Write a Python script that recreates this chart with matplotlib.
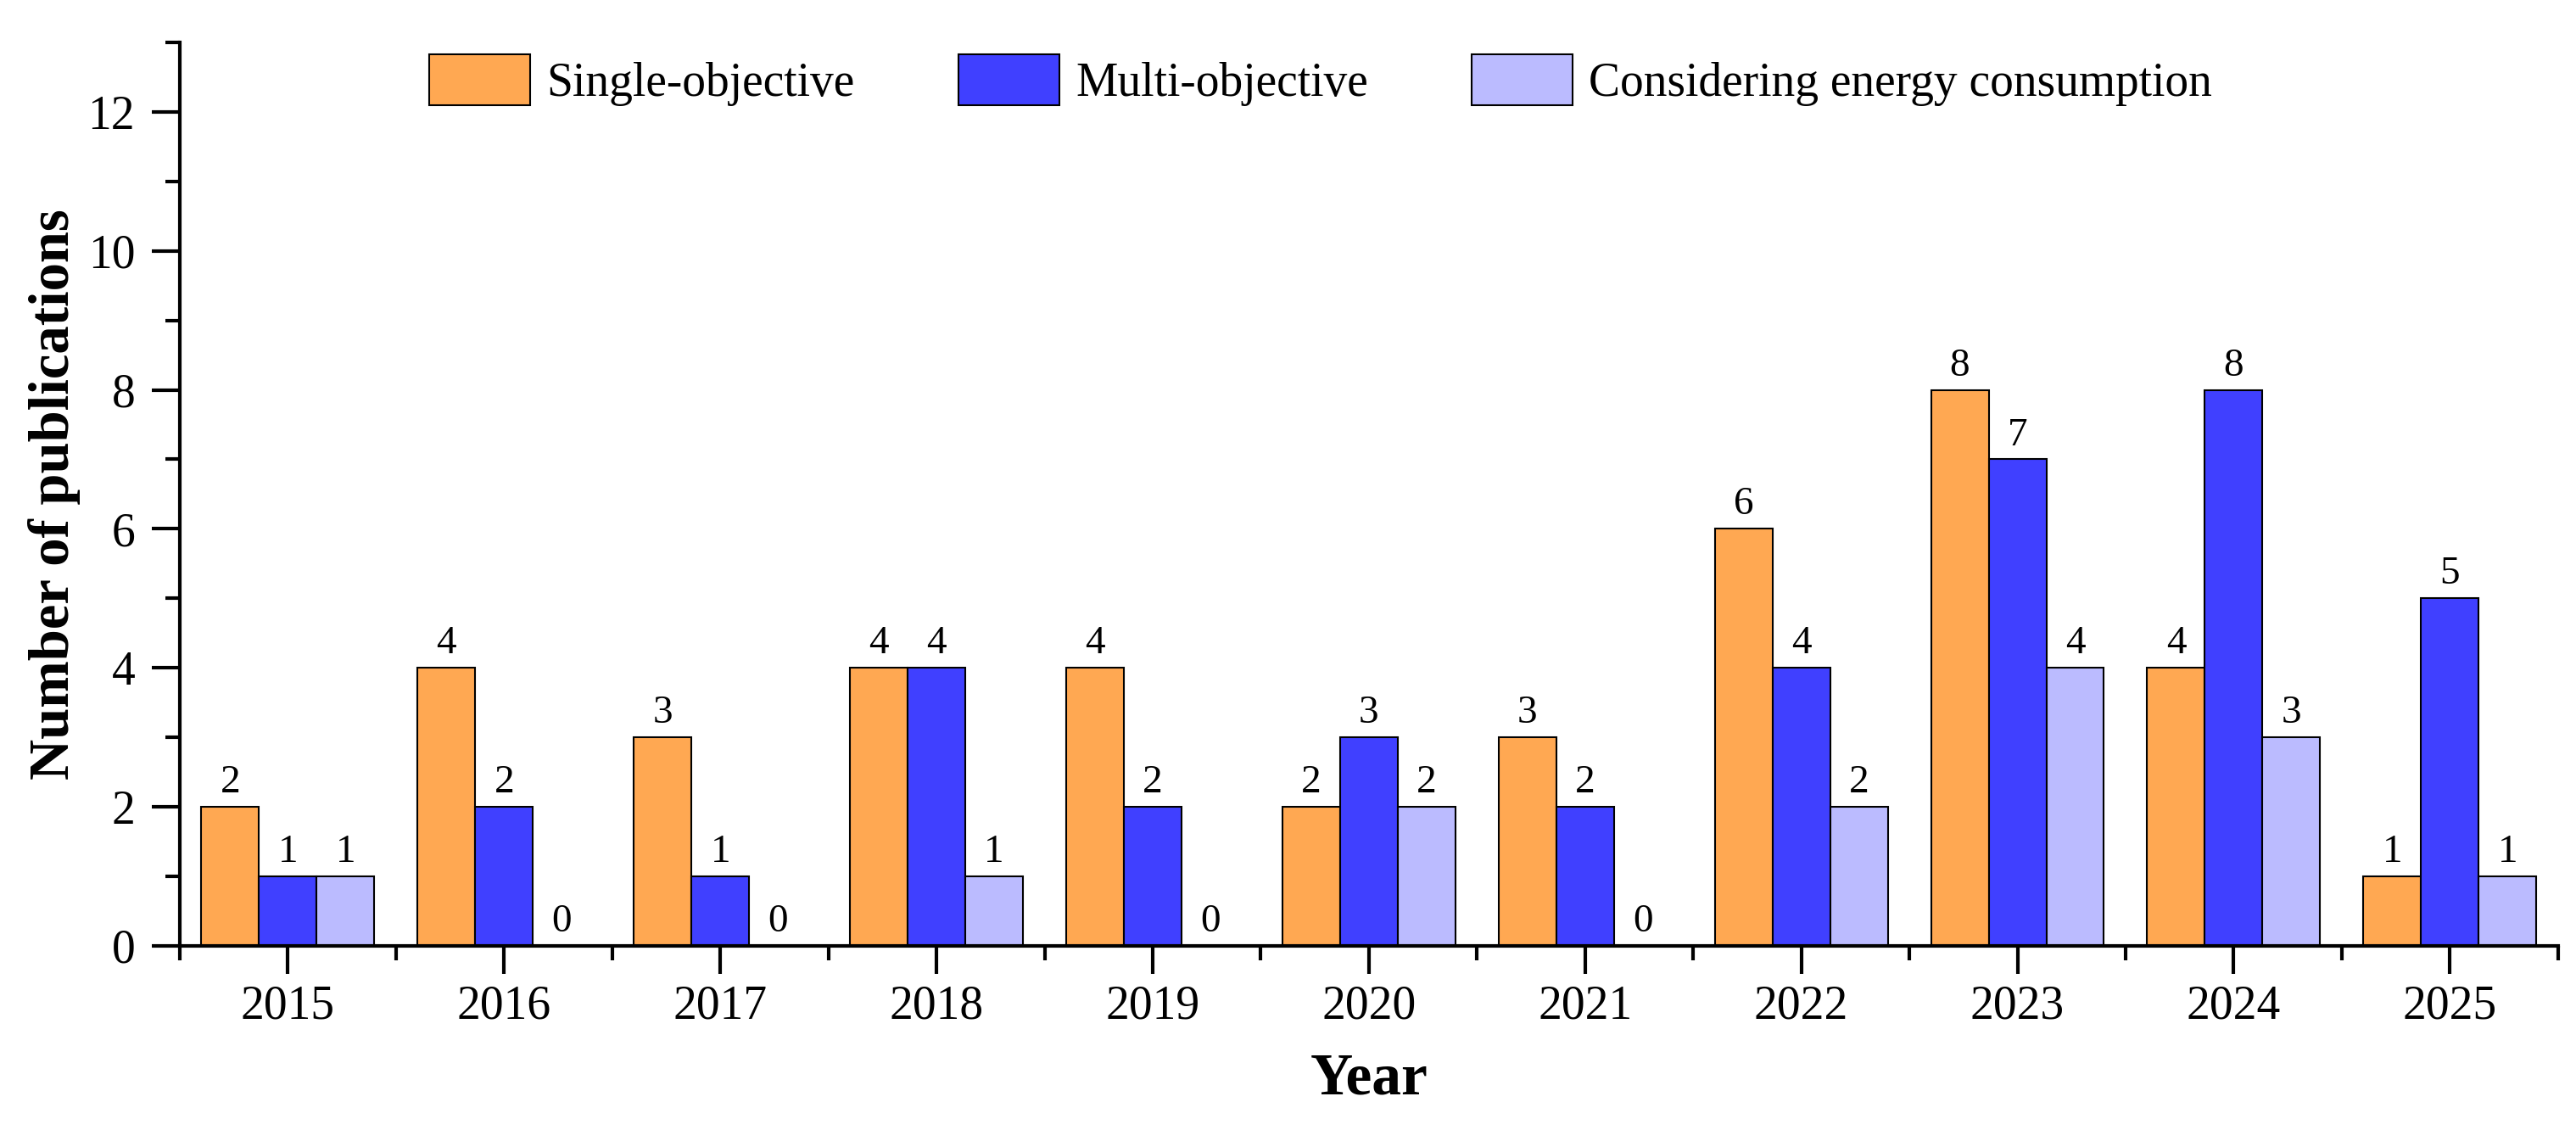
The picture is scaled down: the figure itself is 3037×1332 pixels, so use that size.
import matplotlib
matplotlib.use("Agg")
import matplotlib.pyplot as plt
import numpy as np
from matplotlib.ticker import MultipleLocator, FixedLocator

plt.rcParams['font.family'] = ['Liberation Serif', 'DejaVu Serif']

years = ['2015', '2016', '2017', '2018', '2019', '2020', '2021', '2022', '2023', '2024', '2025']
single_objective = [2, 4, 3, 4, 4, 2, 3, 6, 8, 4, 1]
multi_objective = [1, 2, 1, 4, 2, 3, 2, 4, 7, 8, 5]
energy = [1, 0, 0, 1, 0, 2, 0, 2, 4, 3, 1]
series_names = ['Single-objective', 'Multi-objective', 'Considering energy consumption']
colors = ['#FFA852', '#4040FF', '#BBBBFF']

fig = plt.figure(figsize=(30.37, 13.32), dpi=100)
ax = fig.add_axes([0.0698, 0.163, 0.9232, 0.7995])

x = np.arange(len(years))
w = 0.8 / 3
all_series = [single_objective, multi_objective, energy]
for i, (vals, name, c) in enumerate(zip(all_series, series_names, colors)):
    pos = x + (i - 1) * w
    ax.bar(pos, vals, width=w, color=c, edgecolor='black', linewidth=1.5, label=name)
    for xp, v in zip(pos, vals):
        ax.annotate(str(v), (xp, v), xytext=(0, 5), textcoords='offset points',
                    ha='center', va='bottom', fontsize=34)

ax.set_xlim(-0.5, len(years) - 0.5)
ax.set_ylim(0, 13)
ax.set_xticks(x)
ax.set_xticklabels(years)
ax.xaxis.set_minor_locator(FixedLocator(np.arange(-0.5, len(years), 1.0)))
ax.yaxis.set_major_locator(MultipleLocator(2))
ax.yaxis.set_minor_locator(FixedLocator(np.arange(1, 14, 2)))

for s in ['top', 'right']:
    ax.spines[s].set_visible(False)
for s in ['left', 'bottom']:
    ax.spines[s].set_linewidth(3)

ax.tick_params(axis='both', which='major', length=24, width=3, labelsize=40, direction='out')
ax.tick_params(axis='x', which='major', pad=9)
ax.tick_params(axis='y', which='major', pad=14)
ax.tick_params(axis='both', which='minor', length=12, width=3, direction='out')

ax.set_xlabel('Year', fontsize=50, fontweight='bold', labelpad=20)
ax.set_ylabel('Number of publications', fontsize=48, fontweight='bold', labelpad=6)

leg = fig.legend(loc='upper left', bbox_to_anchor=(0.1666, 0.952), ncol=3, frameon=False,
                 fontsize=40, handlelength=2.14, handleheight=1.3, handletextpad=0.35,
                 columnspacing=2.2, borderpad=0, borderaxespad=0)

fig.savefig('out.png', dpi=100)
